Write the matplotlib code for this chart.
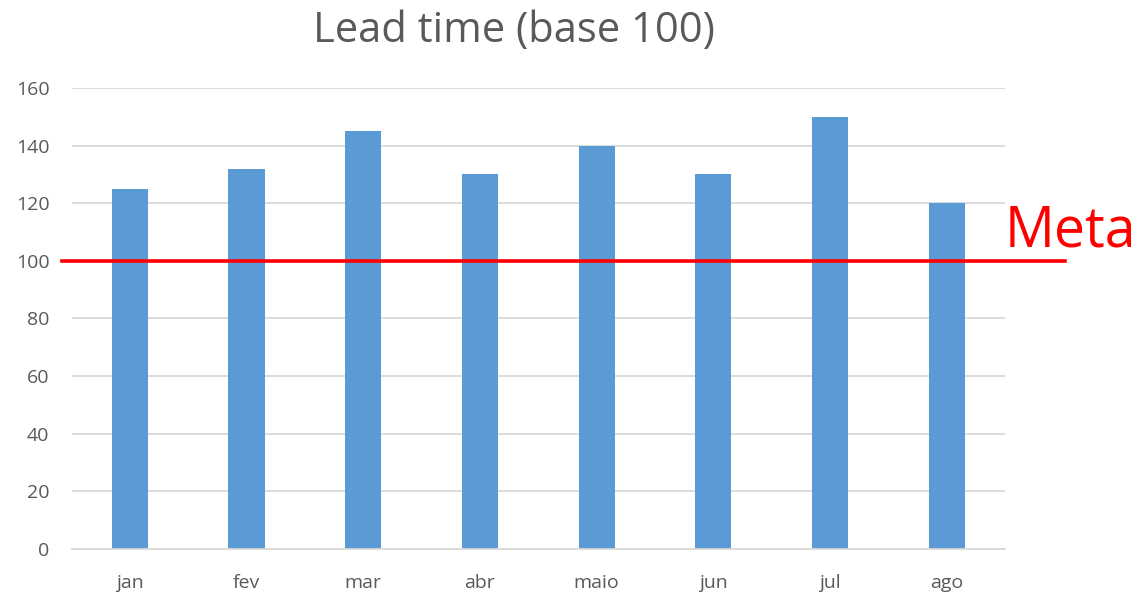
import matplotlib.pyplot as plt

plt.rcParams['font.family'] = ['Open Sans', 'DejaVu Sans']

months = ['jan', 'fev', 'mar', 'abr', 'maio', 'jun', 'jul', 'ago']
lead_time = [125, 132, 145, 130, 140, 130, 150, 120]
meta = 100

fig = plt.figure(figsize=(11.45, 5.94), dpi=100)
ax = fig.add_axes([0.0625, 0.0758, 0.8152, 0.7761])

ax.bar(range(len(months)), lead_time, width=0.31, color='#5B9BD5', zorder=2)
ax.axhline(meta, xmin=-0.0103, xmax=1.064, color='#FF0000', lw=2.6, clip_on=False, zorder=3)
ax.text(1.0, meta, 'Meta', transform=ax.get_yaxis_transform(), color='#FF0000',
        fontsize=40, ha='left', va='bottom')

ax.set_xlim(-0.5, len(months) - 0.5)
ax.set_ylim(0, 160)
ax.set_yticks(range(0, 161, 20))
ax.set_xticks(range(len(months)))
ax.set_xticklabels(months)
ax.grid(axis='y', color='#D9D9D9', lw=1.3, zorder=0)
for s in ['top', 'right', 'left']:
    ax.spines[s].set_visible(False)
ax.spines['bottom'].set_color('#D9D9D9')
ax.spines['bottom'].set_linewidth(1.3)
ax.tick_params(length=0, colors='#595959', labelsize=14)
ax.tick_params(axis='x', pad=18)
ax.tick_params(axis='y', pad=16)

fig.text(0.449, 0.947, 'Lead time (base 100)', color='#595959', fontsize=30,
         ha='center', va='center')

plt.savefig('out.png')
